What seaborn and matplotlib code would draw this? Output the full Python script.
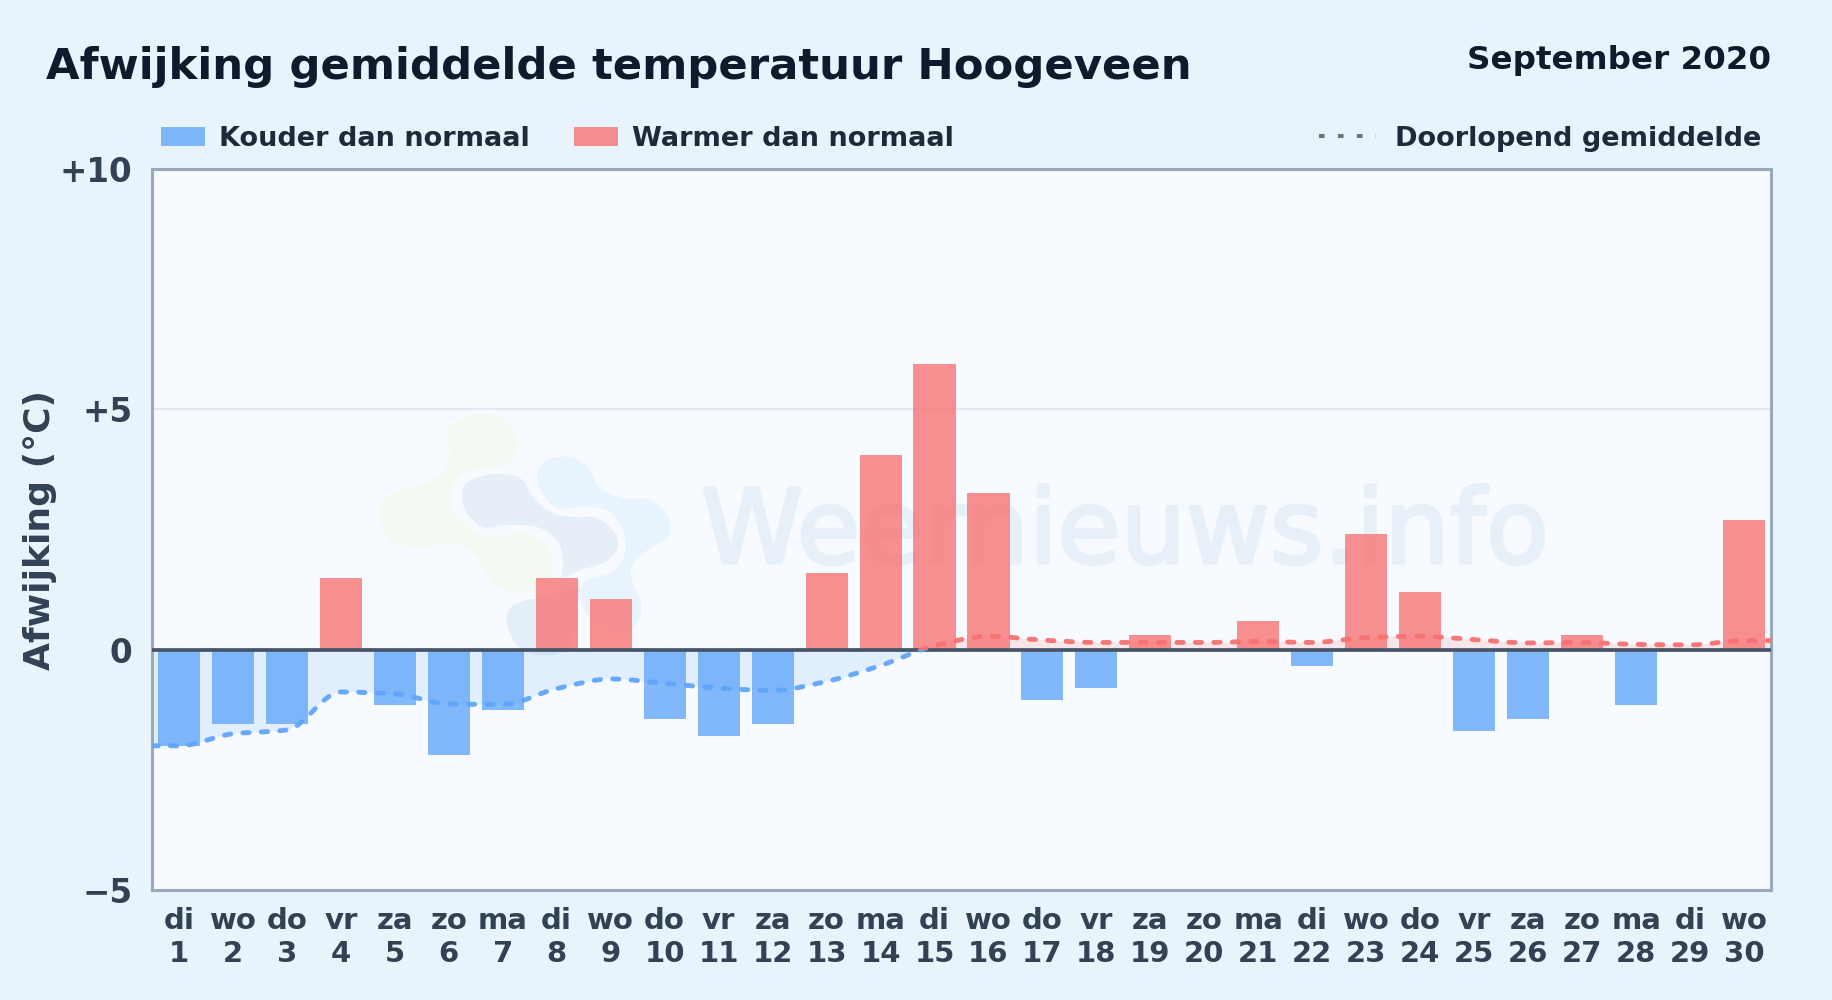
import matplotlib
matplotlib.use("Agg")
import matplotlib.pyplot as plt
import matplotlib.patheffects as pe
import numpy as np
import pandas as pd
import seaborn as sns
from matplotlib.lines import Line2D
from matplotlib.patches import Patch, PathPatch, Rectangle
from matplotlib.path import Path

days = list(range(1, 31))
weekdays = ["di", "wo", "do", "vr", "za", "zo", "ma", "di", "wo", "do", "vr", "za", "zo", "ma", "di",
            "wo", "do", "vr", "za", "zo", "ma", "di", "wo", "do", "vr", "za", "zo", "ma", "di", "wo"]
deviation = [-2.0, -1.55, -1.55, 1.5, -1.15, -2.2, -1.25, 1.5, 1.05, -1.45, -1.8, -1.55, 1.6, 4.05, 5.95,
             3.25, -1.05, -0.8, 0.3, 0.0, 0.6, -0.35, 2.4, 1.2, -1.7, -1.45, 0.3, -1.15, 0.0, 2.7]
running_mean = [-2.0, -1.75, -1.67, -0.88, -0.92, -1.13, -1.14, -0.81, -0.61, -0.70, -0.80, -0.85, -0.66, -0.33, 0.08,
                0.28, 0.20, 0.15, 0.15, 0.15, 0.17, 0.15, 0.25, 0.28, 0.21, 0.14, 0.15, 0.11, 0.10, 0.19]
ytick_values = [-5, 0, 5, 10]
ytick_labels = ["\u22125", "0", "+5", "+10"]

BG = "#e8f3fc"
PANEL = "#f7fbff"
BLUE = "#60a5fa"
RED = "#f87171"
DARK = "#0f1a2c"
TEXT = "#1e293b"
TICK = "#334155"

# watermark logo outlines, in figure pixels
logo_green = [(448, 430), (470, 415), (500, 417), (517, 440), (510, 462), (483, 468), (460, 475), (450, 500),
              (463, 523), (493, 537), (527, 533), (548, 547), (553, 567), (540, 587), (517, 593), (493, 583),
              (477, 557), (453, 543), (420, 547), (390, 540), (380, 513), (393, 493), (427, 483), (447, 467), (450, 447)]
logo_dark = [(462, 497), (467, 482), (493, 474), (520, 478), (533, 497), (550, 512), (573, 517), (597, 518),
             (615, 533), (617, 550), (603, 563), (580, 570), (563, 577), (563, 560), (557, 540), (537, 527),
             (507, 525), (483, 527), (467, 513)]
logo_light = [(537, 477), (547, 460), (570, 457), (587, 467), (600, 488), (623, 498), (650, 500), (668, 517),
              (668, 537), (650, 548), (633, 563), (632, 580), (642, 607), (633, 627), (613, 627), (590, 617),
              (580, 597), (587, 580), (613, 572), (625, 553), (623, 530), (607, 510), (580, 507), (557, 508), (542, 493)]
logo_low = [(507, 623), (510, 608), (527, 600), (547, 597), (577, 587), (578, 607), (573, 640), (560, 653),
            (537, 655), (517, 645)]


def closed_blob(points):
    # closed Catmull-Rom outline as cubic bezier segments
    p = np.array(points, dtype=float)
    n = len(p)
    verts = [p[0]]
    for i in range(n):
        p0, p1, p2, p3 = p[i - 1], p[i], p[(i + 1) % n], p[(i + 2) % n]
        verts += [p1 + (p2 - p0) / 6, p2 - (p3 - p1) / 6, p2]
    return Path(verts, [Path.MOVETO] + [Path.CURVE4] * (3 * n))


def monotone_path(x, y, close_to=None):
    # monotone cubic through the points, optionally closed down to a baseline
    x, y = np.asarray(x, float), np.asarray(y, float)
    h = np.diff(x)
    s = np.diff(y) / h
    m = np.zeros_like(y)
    for i in range(1, len(y) - 1):
        if s[i - 1] * s[i] > 0:
            m[i] = 2 * s[i - 1] * s[i] / (s[i - 1] + s[i])
    verts = [(x[0], y[0])]
    for i in range(len(h)):
        verts += [(x[i] + h[i] / 3, y[i] + m[i] * h[i] / 3),
                  (x[i + 1] - h[i] / 3, y[i + 1] - m[i + 1] * h[i] / 3),
                  (x[i + 1], y[i + 1])]
    codes = [Path.MOVETO] + [Path.CURVE4] * (3 * len(h))
    if close_to is not None:
        verts += [(x[-1], close_to), (x[0], close_to), (x[0], y[0])]
        codes += [Path.LINETO, Path.LINETO, Path.CLOSEPOLY]
    return Path(verts, codes)


sns.set_theme(style="white")
plt.rcParams["font.family"] = ["DejaVu Sans"]
plt.rcParams["font.weight"] = "bold"

fig = plt.figure(figsize=(18.32, 10), dpi=100, facecolor=BG)
ax = fig.add_axes([152 / 1832, 1 - 890 / 1000, (1771 - 152) / 1832, 721 / 1000], facecolor=PANEL)

# watermark
to_fig = matplotlib.transforms.Affine2D().scale(1 / 1832, -1 / 1000).translate(0, 1) + fig.transFigure
for pts, col in [(logo_green, "#f3faf2"), (logo_dark, "#e6eff8"), (logo_light, "#e7f4fe"), (logo_low, "#e4eef8")]:
    ax.add_patch(PathPatch(closed_blob(pts), facecolor=col, edgecolor="none", transform=to_fig, zorder=0.5))
ax.text(1125 / 1832, 1 - 563 / 1000, "Weernieuws.info", transform=fig.transFigure, ha="center", va="baseline",
        fontsize=74, fontweight="normal", color="#e7eff8", zorder=0.6,
        path_effects=[pe.withStroke(linewidth=2.5, foreground="#e7eff8")])

df = pd.DataFrame({"day": days, "deviation": deviation})
df["kind"] = np.where(df["deviation"] < 0, "koud", "warm")
sns.barplot(data=df, x="day", y="deviation", hue="kind", palette={"koud": BLUE, "warm": RED},
            dodge=False, width=0.78, alpha=0.78, saturation=1, legend=False, ax=ax, zorder=2, linewidth=0)

ax.set_xlim(-0.5, 29.5)
ax.set_ylim(-5, 10)

# running mean, carried flat out to the panel edges, blue below zero and red above
line_x = [-0.5] + [d - 1 for d in days] + [29.5]
line_y = [running_mean[0]] + running_mean + [running_mean[-1]]
below = Rectangle((-0.5, -5), 30, 5, transform=ax.transData)
above = Rectangle((-0.5, 0), 30, 10, transform=ax.transData)
for clip, col in [(below, BLUE), (above, RED)]:
    fill = PathPatch(monotone_path(line_x, line_y, close_to=0), facecolor=col, edgecolor="none",
                     alpha=0.15, zorder=1)
    ax.add_patch(fill)
    fill.set_clip_path(clip)
    curve = PathPatch(monotone_path(line_x, line_y), facecolor="none", edgecolor=col, linewidth=3.5,
                      linestyle=(0, (1.3, 2.5)), capstyle="round", alpha=0.95, zorder=4)
    ax.add_patch(curve)
    curve.set_clip_path(clip)

ax.axhline(0, color="#475569", linewidth=2.7, zorder=3)
ax.axhline(5, color="#e2e8f0", linewidth=1.6, zorder=0.8)

for side in ax.spines.values():
    side.set_color("#9aa8bb")
    side.set_linewidth(2.2)

ax.set_xticks(range(30))
ax.set_xticklabels([f"{w}\n{d}" for w, d in zip(weekdays, days)], fontsize=21, color=TICK, linespacing=1.22)
ax.set_yticks(ytick_values)
ax.set_yticklabels(ytick_labels, fontsize=23.5, color=TICK)
ax.tick_params(axis="both", length=0, pad=14)
ax.tick_params(axis="x", pad=12)
ax.set_xlabel("")
ax.set_ylabel("")
fig.text(40 / 1832, 1 - 530 / 1000, "Afwijking (\u00b0C)", rotation=90, ha="center", va="center",
         fontsize=26, color=TICK)

fig.text(46 / 1832, 1 - 67 / 1000, "Afwijking gemiddelde temperatuur Hoogeveen", ha="left", va="center",
         fontsize=31.2, color=DARK)
fig.text(1771 / 1832, 1 - 61 / 1000, "September 2020", ha="right", va="center", fontsize=23.4, color=DARK)

left = ax.legend(handles=[Patch(color=BLUE, alpha=0.78, linewidth=0, label="Kouder dan normaal"),
                          Patch(color=RED, alpha=0.78, linewidth=0, label="Warmer dan normaal")],
                 loc="lower left", bbox_to_anchor=(-0.0028, 1.005), ncols=2, frameon=False, fontsize=19.5,
                 handlelength=1.62, handleheight=0.67, handletextpad=0.52, columnspacing=1.64,
                 labelcolor=TEXT, borderaxespad=0.2, borderpad=0.3)
ax.add_artist(left)
ax.legend(handles=[Line2D([0], [0], color="#64748b", linewidth=2.9, linestyle=(0, (1.4, 3.3)),
                          dash_capstyle="butt", label="Doorlopend gemiddelde")],
          loc="lower right", bbox_to_anchor=(1.0025, 1.005), frameon=False, fontsize=19.5, handlelength=2.1,
          handletextpad=0.72, labelcolor=TEXT, borderaxespad=0.2, borderpad=0.3)

fig.savefig("out.png", dpi=100, facecolor=BG)
